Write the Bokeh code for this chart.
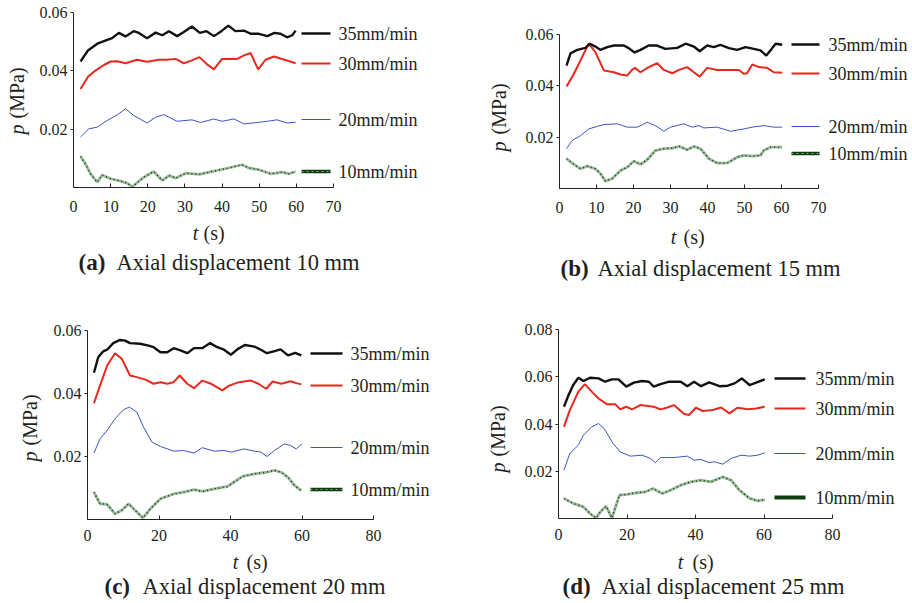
import math
from bokeh.plotting import figure
from bokeh.models import Range1d, FixedTicker, Label, NumeralTickFormatter
from bokeh.layouts import column, row
from bokeh.embed import file_html
from bokeh.resources import INLINE

# ---------------- data (t in s, p in MPa) ----------------
series_labels = ["35mm/min", "30mm/min", "20mm/min", "10mm/min"]

# (a) axial displacement 10 mm
a35_t = [1.9, 3.9, 6.4, 9.1, 10.4, 12.2, 14, 16.2, 17.6, 19.8, 22.1, 23.9, 25.7, 27.9, 29.7, 31.9, 34, 35.8, 37.8, 39.8, 41.7, 43.6, 45.9, 47.7, 49.9, 52.2, 54.1, 55.7, 57.5, 58.9, 59.8]
a35_p = [0.0432, 0.047, 0.0493, 0.0506, 0.0512, 0.053, 0.0518, 0.0536, 0.053, 0.0512, 0.0531, 0.0522, 0.0536, 0.0519, 0.0533, 0.0552, 0.053, 0.0536, 0.0519, 0.0536, 0.0555, 0.0536, 0.0538, 0.0527, 0.0527, 0.0519, 0.053, 0.0527, 0.0515, 0.0522, 0.0538]
a30_t = [1.9, 3.9, 5.9, 8.2, 10, 11.8, 14, 17.1, 19.8, 23, 25.2, 27.5, 29.7, 31.7, 33.9, 35.8, 37.8, 40, 44.1, 45.9, 47.7, 49.7, 51.7, 54, 56.6, 59.8]
a30_p = [0.0338, 0.038, 0.0401, 0.042, 0.0432, 0.0433, 0.0426, 0.0438, 0.0431, 0.0438, 0.0438, 0.0441, 0.0426, 0.0435, 0.0447, 0.0424, 0.0405, 0.0441, 0.0441, 0.0453, 0.0461, 0.0405, 0.0438, 0.0449, 0.0439, 0.0426]
a20_t = [1.9, 4.1, 6.4, 9.1, 11.8, 14, 16.2, 19.8, 22.1, 24.3, 27.9, 31.9, 34.2, 37.8, 40, 43.2, 45.9, 49.5, 52.2, 54.8, 57.5, 59.8]
a20_p = [0.0173, 0.0201, 0.0207, 0.023, 0.0249, 0.027, 0.0247, 0.0221, 0.0241, 0.025, 0.0227, 0.0232, 0.0223, 0.0235, 0.0227, 0.0235, 0.0218, 0.0223, 0.0227, 0.0232, 0.0221, 0.0224]
a10_t = [1.9, 3.2, 4.6, 6.4, 7.7, 10, 12.7, 14.5, 15.8, 18.9, 21.6, 23.9, 25.7, 27.5, 30.2, 33.8, 37.8, 41.4, 45.4, 47.2, 49.9, 53.1, 56.2, 58, 59.8]
a10_p = [0.0107, 0.0081, 0.0047, 0.0018, 0.0043, 0.003, 0.0022, 0.0015, 0.0002, 0.0035, 0.0055, 0.0024, 0.0041, 0.0032, 0.0049, 0.0045, 0.0056, 0.0066, 0.0078, 0.0067, 0.0061, 0.0047, 0.0053, 0.0047, 0.0055]

# (b) axial displacement 15 mm
b35_t = [1.9, 3, 4.8, 7, 8.2, 9.7, 11.1, 12.9, 14.7, 17.4, 18.7, 20.3, 21.9, 24.1, 26.4, 28.6, 31.8, 34.1, 36.3, 37.9, 39.9, 41.7, 43.5, 45.8, 48, 50.3, 52.5, 54.3, 55.9, 57, 58.4, 60.2]
b35_p = [0.0479, 0.0527, 0.054, 0.0548, 0.0564, 0.0553, 0.054, 0.0551, 0.0557, 0.0557, 0.0547, 0.053, 0.054, 0.0557, 0.0557, 0.0544, 0.0548, 0.0564, 0.0553, 0.0535, 0.0557, 0.0551, 0.056, 0.0547, 0.054, 0.0551, 0.0544, 0.0538, 0.0518, 0.0538, 0.0564, 0.056]
b30_t = [1.9, 3.9, 6.1, 7.9, 9.7, 12, 14.7, 16.5, 18.3, 19.6, 20.4, 21.9, 24.1, 26.4, 28.2, 30.5, 32.3, 34.5, 36.3, 37.9, 39.9, 42.6, 46.2, 48.5, 49.8, 50.7, 52.1, 53.9, 56.1, 57.9, 60.2]
b30_p = [0.0397, 0.0447, 0.0512, 0.0564, 0.0531, 0.046, 0.0453, 0.0444, 0.044, 0.0462, 0.047, 0.0453, 0.0473, 0.0488, 0.0462, 0.0449, 0.0462, 0.0473, 0.0453, 0.0436, 0.047, 0.0462, 0.0462, 0.0462, 0.0447, 0.0449, 0.0483, 0.0473, 0.047, 0.0453, 0.0451]
b20_t = [1.9, 3.4, 5.7, 7.9, 10.2, 12, 15.6, 18.3, 21, 23.7, 25.9, 28.2, 30, 33.6, 35.9, 37.7, 39, 42.6, 46.2, 49.8, 52.1, 55.2, 57.9, 60.2]
b20_p = [0.0155, 0.0187, 0.0206, 0.0232, 0.0242, 0.0249, 0.0252, 0.0239, 0.0239, 0.0258, 0.0245, 0.0223, 0.0239, 0.0252, 0.0239, 0.0245, 0.0236, 0.0239, 0.0223, 0.0232, 0.0239, 0.0245, 0.0239, 0.0239]
b10_t = [1.9, 3.9, 5.7, 7.5, 9.7, 11.1, 12.4, 14.2, 16.5, 18.3, 20.1, 21.9, 23.7, 25.9, 28.2, 30.5, 32.3, 34.5, 36.3, 38.1, 40.4, 42.6, 45.3, 48, 49.8, 52.1, 54.3, 55.2, 57, 60.2]
b10_p = [0.0116, 0.0094, 0.0077, 0.0087, 0.0077, 0.0057, 0.0029, 0.0038, 0.007, 0.0083, 0.0106, 0.0094, 0.0112, 0.0148, 0.0155, 0.0157, 0.0164, 0.0151, 0.0164, 0.0155, 0.0116, 0.0099, 0.0099, 0.0122, 0.0129, 0.0126, 0.0129, 0.0148, 0.0161, 0.0161]

# (c) axial displacement 20 mm
c35_t = [1.8, 3, 4.4, 5.5, 7.2, 9.1, 10.5, 11.9, 14.7, 17.1, 18.5, 20.4, 22.3, 24.1, 26, 27.9, 29.8, 32.1, 34.3, 36.3, 38.2, 40.1, 42, 44, 46.7, 48.5, 50.2, 52.1, 54, 56.1, 58.1, 59.8]
c35_p = [0.0466, 0.0515, 0.0534, 0.0539, 0.056, 0.057, 0.0568, 0.056, 0.0558, 0.0552, 0.0547, 0.0531, 0.0531, 0.0544, 0.0537, 0.0528, 0.0544, 0.0544, 0.056, 0.0547, 0.0539, 0.0523, 0.0541, 0.0554, 0.0549, 0.0539, 0.0528, 0.0534, 0.054, 0.0521, 0.0529, 0.0521]
c30_t = [1.8, 3.5, 5.5, 7.7, 9.6, 11.9, 13.8, 16.2, 18.5, 20.4, 22.3, 24.1, 25.8, 27.9, 29.8, 32.1, 34.5, 37.7, 39.6, 42.4, 45.7, 47.8, 50, 51.8, 54.2, 56.8, 58.4, 59.8]
c30_p = [0.0369, 0.0425, 0.0489, 0.0528, 0.051, 0.0457, 0.0452, 0.0444, 0.0431, 0.0436, 0.0431, 0.0436, 0.0457, 0.0431, 0.0417, 0.0441, 0.0431, 0.041, 0.0425, 0.0436, 0.0441, 0.0431, 0.0415, 0.0438, 0.0431, 0.0439, 0.0433, 0.0429]
c20_t = [1.8, 3.5, 5.5, 7.7, 10, 11.7, 13.8, 15.7, 18, 20.4, 24.1, 26.9, 29.8, 32.1, 35.4, 38.2, 40.1, 43.8, 46.7, 48.5, 50.2, 52.3, 55.1, 56.8, 58.4, 60]
c20_p = [0.0211, 0.0256, 0.0283, 0.032, 0.0348, 0.0357, 0.0341, 0.0293, 0.0246, 0.0232, 0.0217, 0.0219, 0.0211, 0.0228, 0.0217, 0.0219, 0.0214, 0.0224, 0.0217, 0.0214, 0.02, 0.0219, 0.024, 0.0235, 0.0224, 0.024]
c10_t = [1.8, 3.5, 5.5, 7.7, 9.6, 11.5, 13.3, 15.5, 17.6, 20.4, 24.1, 26.9, 29.8, 32.1, 35.4, 39.2, 41, 43.4, 46.7, 50, 52.3, 54.2, 56.1, 57.9, 59.8]
c10_p = [0.0087, 0.005, 0.0048, 0.0018, 0.0029, 0.005, 0.0029, 0.0005, 0.0034, 0.0066, 0.0081, 0.0087, 0.0095, 0.0089, 0.0097, 0.0105, 0.0119, 0.0137, 0.0145, 0.015, 0.0156, 0.015, 0.0134, 0.0108, 0.0092]

# (d) axial displacement 25 mm
d35_t = [1.6, 2.8, 4.3, 5.8, 7.3, 9.2, 11.7, 13.6, 15.6, 17.5, 19.8, 22, 24.4, 26.4, 27.8, 29.8, 32.3, 35.7, 37.6, 39.6, 41.6, 44, 47, 49.4, 51.4, 53.5, 55.8, 57.7, 60.2]
d35_p = [0.0473, 0.0518, 0.0565, 0.0596, 0.0582, 0.0596, 0.0593, 0.0579, 0.0589, 0.0589, 0.0558, 0.0575, 0.0582, 0.0579, 0.0558, 0.0569, 0.0579, 0.0579, 0.056, 0.0579, 0.056, 0.0576, 0.056, 0.0562, 0.0572, 0.0593, 0.0565, 0.0575, 0.0589]
d30_t = [1.6, 3.3, 5.8, 7.7, 9.7, 11.7, 14.1, 16.6, 18, 19.8, 21.5, 23.9, 27.8, 29.8, 31.8, 33.7, 36.7, 38.1, 40.1, 42.1, 45, 47.5, 49.9, 52.2, 55.3, 57.7, 60.2]
d30_p = [0.0388, 0.0459, 0.0537, 0.0569, 0.0537, 0.0508, 0.0484, 0.0484, 0.0462, 0.0473, 0.0462, 0.048, 0.0473, 0.0462, 0.047, 0.048, 0.0442, 0.0438, 0.0469, 0.0455, 0.0459, 0.047, 0.0445, 0.0469, 0.0462, 0.0466, 0.0473]
d20_t = [1.6, 3.3, 5.8, 7.3, 9.7, 11.7, 13.3, 15.9, 18, 21, 24.4, 26.9, 28.3, 29.8, 33.7, 37.6, 39.6, 41.6, 44, 45.5, 48, 50.4, 53.3, 55.8, 58.2, 60.2]
d20_p = [0.0205, 0.0275, 0.0311, 0.0353, 0.0388, 0.0402, 0.0381, 0.0318, 0.0282, 0.0264, 0.0268, 0.0254, 0.0236, 0.0258, 0.0258, 0.0264, 0.0247, 0.025, 0.0236, 0.024, 0.023, 0.0254, 0.0268, 0.0264, 0.0268, 0.0278]
d10_t = [1.6, 4.3, 7.3, 9.2, 11, 12.2, 13.9, 15.6, 17.8, 20, 22.9, 25.4, 27.6, 30.3, 32.7, 35.7, 38.6, 41.6, 44.5, 47.9, 50.4, 52.8, 55.8, 58.2, 60.2]
d10_p = [0.0085, 0.0064, 0.0049, 0.0021, 0.0002, 0.0028, 0.0052, 0.0002, 0.0099, 0.0102, 0.0109, 0.0113, 0.0127, 0.0106, 0.012, 0.0141, 0.0155, 0.0162, 0.0155, 0.0176, 0.0162, 0.012, 0.0085, 0.0075, 0.008]

captions = [("(a)", "Axial displacement 10 mm"), ("(b)", "Axial displacement 15 mm"),
            ("(c)", "Axial displacement 20 mm"), ("(d)", "Axial displacement 25 mm")]
x_ticks_70 = [0, 10, 20, 30, 40, 50, 60, 70]
x_ticks_80 = [0, 20, 40, 60, 80]
y_ticks_06 = [0.02, 0.04, 0.06]
y_ticks_08 = [0.02, 0.04, 0.06, 0.08]

# ---------------- style / layout (page pixels, origin = page top-left) ----------------
FONT = "'Liberation Serif'"
TXT = "#231f20"
BLACK, RED, BLUE = "#111111", "#e8281e", "#3a56c4"
GREEN_LIGHT, GREEN_DARK = "#9ab89a", "#0e3d12"

panels = [
    dict(x0=0, y0=0, w=456, h=304, strip=33, ax=73, ay=187, xp=333, yp=12, xmax=70, ymax=0.06,
         xt=x_ticks_70, yt=y_ticks_06, below=34, standoff=13,
         data=[(a35_t, a35_p), (a30_t, a30_p), (a20_t, a20_p), (a10_t, a10_p)],
         leg_x=(301, 330, 338), leg_y=[33, 63, 119, 171],
         tl=(195, 203, 232), pl=(16, 134, 118), cap=(78, 116, 262), cap_i=0, solid10=False),
    dict(x0=456, y0=0, w=454, h=304, strip=56, ax=559, ay=188, xp=818, yp=34, xmax=70, ymax=0.06,
         xt=x_ticks_70, yt=y_ticks_06, below=34, standoff=13,
         data=[(b35_t, b35_p), (b30_t, b30_p), (b20_t, b20_p), (b10_t, b10_p)],
         leg_x=(791, 819, 828), leg_y=[44, 73, 126, 153],
         tl=(673, 683, 236), pl=(498, 151, 134), cap=(560, 597, 268), cap_i=1, solid10=False),
    dict(x0=0, y0=304, w=456, h=296, strip=42, ax=87, ay=519, xp=373, yp=330, xmax=80, ymax=0.06,
         xt=x_ticks_80, yt=y_ticks_06, below=30, standoff=10,
         data=[(c35_t, c35_p), (c30_t, c30_p), (c20_t, c20_p), (c10_t, c10_p)],
         leg_x=(310, 342, 350), leg_y=[353, 385, 447, 489],
         tl=(235, 246, 561), pl=(29, 461, 445), cap=(104, 142, 586), cap_i=2, solid10=False),
    dict(x0=456, y0=304, w=454, h=296, strip=56, ax=558, ay=518, xp=832, yp=329, xmax=80, ymax=0.08,
         xt=x_ticks_80, yt=y_ticks_08, below=30, standoff=10,
         data=[(d35_t, d35_p), (d30_t, d30_p), (d20_t, d20_p), (d10_t, d10_p)],
         leg_x=(774, 805, 815), leg_y=[378, 408, 453, 497],
         tl=(680, 692, 561), pl=(497, 472, 456), cap=(562, 601, 586), cap_i=3, solid10=True),
]


def plain_fig(w, h, left=0):
    f = figure(width=w, height=h, x_range=Range1d(0, w - left), y_range=Range1d(0, h),
               min_border=0, min_border_left=left, x_axis_location=None, y_axis_location=None,
               output_backend="svg", toolbar_location=None, tools="")
    f.outline_line_color = None
    f.grid.visible = False
    return f


def text_label(f, x, y, text, size, style="normal", angle=0.0, align="left"):
    f.add_layout(Label(x=x, y=y, x_units="data", y_units="data", text=text,
                       text_font=FONT, text_font_size=f"{size}px", text_font_style=style,
                       text_color=TXT, angle=angle, text_align=align, text_baseline="middle"))


def make_panel(g):
    x0, y0, w, h, s = g["x0"], g["y0"], g["w"], g["h"], g["strip"]
    main_w = w - s
    main_h = g["ay"] + g["below"] - y0
    left = g["ax"] - (x0 + s)
    ppx = (g["xp"] - g["ax"]) / g["xmax"]
    ppy = (g["ay"] - g["yp"]) / g["ymax"]
    frame_w = main_w - left
    frame_h = g["ay"] - y0

    p = figure(width=main_w, height=main_h,
               min_border_left=left, min_border_right=0,
               min_border_top=0, min_border_bottom=g["below"],
               x_range=Range1d(0, frame_w / ppx), y_range=Range1d(0, frame_h / ppy),
               output_backend="svg", toolbar_location=None, tools="")
    p.outline_line_color = None
    p.grid.visible = False
    for ax in (p.xaxis[0], p.yaxis[0]):
        ax.axis_line_color = "#222222"
        ax.major_tick_line_color = "#222222"
        ax.minor_tick_line_color = None
        ax.major_label_text_font = FONT
        ax.major_label_text_font_size = "16px"
        ax.major_label_text_color = TXT
    p.xaxis.ticker = FixedTicker(ticks=g["xt"])
    p.xaxis.bounds = (0, g["xmax"])
    p.xaxis.major_tick_in = 4
    p.xaxis.major_tick_out = 0
    p.xaxis.major_label_standoff = g["standoff"]
    p.yaxis.ticker = FixedTicker(ticks=g["yt"])
    p.yaxis.bounds = (0, g["ymax"])
    p.yaxis.formatter = NumeralTickFormatter(format="0.00")
    p.yaxis.major_tick_in = 0
    p.yaxis.major_tick_out = 3
    p.yaxis.major_label_standoff = 3

    (t35, p35), (t30, p30), (t20, p20), (t10, p10) = g["data"]
    p.line(t10, p10, line_color=GREEN_LIGHT, line_width=2.8)
    p.line(t10, p10, line_color=GREEN_DARK, line_width=1.5, line_dash="1 3")
    p.line(t20, p20, line_color=BLUE, line_width=1)
    p.line(t30, p30, line_color=RED, line_width=2)
    p.line(t35, p35, line_color=BLACK, line_width=2.4)

    # legend (placed beside the curve ends): page px -> data coords
    lx0 = (g["leg_x"][0] - g["ax"]) / ppx
    lx1 = (g["leg_x"][1] - g["ax"]) / ppx
    lxt = (g["leg_x"][2] - g["ax"]) / ppx
    ly = [(g["ay"] - yy) / ppy for yy in g["leg_y"]]
    p.line([lx0, lx1], [ly[0]] * 2, line_color=BLACK, line_width=2.4)
    p.line([lx0, lx1], [ly[1]] * 2, line_color=RED, line_width=2)
    p.line([lx0, lx1], [ly[2]] * 2, line_color=BLUE, line_width=1)
    if g["solid10"]:
        p.line([lx0, lx1], [ly[3]] * 2, line_color=GREEN_DARK, line_width=4)
    else:
        p.line([lx0, lx1], [ly[3]] * 2, line_color=GREEN_DARK, line_width=3.5)
        p.line([lx0, lx1], [ly[3]] * 2, line_color="#7fa67f", line_width=1.2, line_dash="2 3")
    for name, yv in zip(series_labels, ly):
        text_label(p, lxt, yv, name, 18)

    # y title strip
    st = plain_fig(s, h)
    px_, py1, py2 = g["pl"]
    text_label(st, px_ - x0, y0 + h - py1, "p", 20, style="italic", angle=math.pi / 2)
    text_label(st, px_ - x0, y0 + h - py2, "(MPa)", 20, angle=math.pi / 2)

    # bottom strip: x title + caption (frame aligned with the main frame)
    bh = h - main_h
    by0 = y0 + main_h
    bt = plain_fig(main_w, bh, left=left)
    tx1, tx2, ty = g["tl"]
    text_label(bt, tx1 - g["ax"], by0 + bh - ty, "t", 20, style="italic", align="center")
    text_label(bt, tx2 - g["ax"], by0 + bh - ty, "(s)", 20)
    cx1, cx2, cy = g["cap"]
    bold, rest = captions[g["cap_i"]]
    text_label(bt, cx1 - g["ax"], by0 + bh - cy, bold, 23, style="bold")
    text_label(bt, cx2 - g["ax"], by0 + bh - cy, rest, 22.5)

    return row(st, column(p, bt, spacing=0), spacing=0)


blocks = [make_panel(g) for g in panels]
layout = column(row(blocks[0], blocks[1], spacing=0), row(blocks[2], blocks[3], spacing=0), spacing=0)
open("out.html", "w").write(file_html(layout, INLINE))
